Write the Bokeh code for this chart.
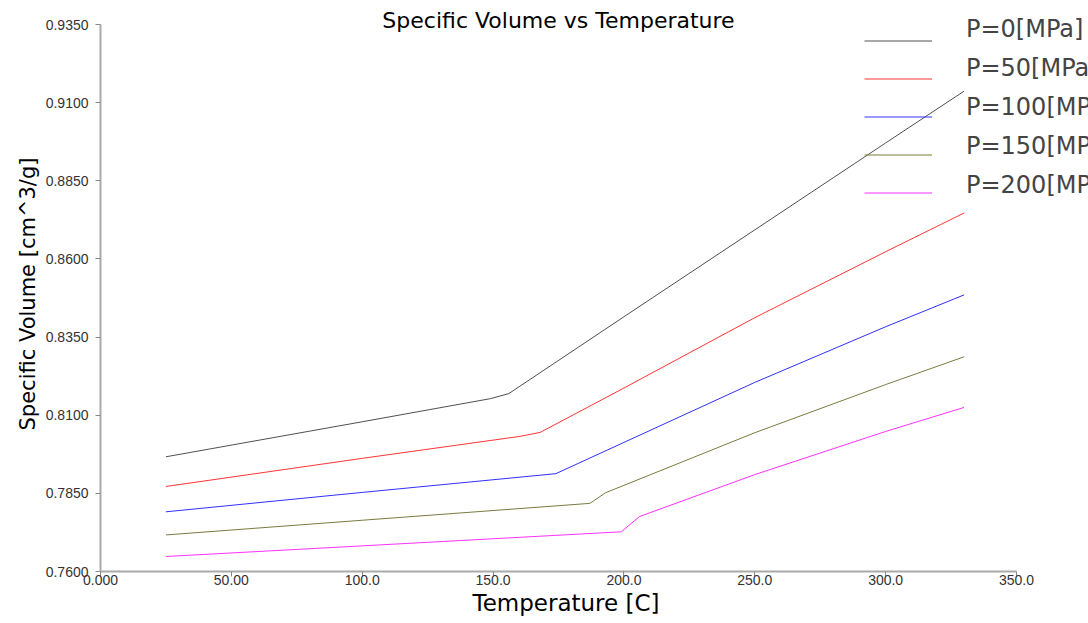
from bokeh.plotting import figure
from bokeh.models import Legend, LegendItem, Label, FixedTicker, Title
from bokeh.embed import file_html
from bokeh.resources import INLINE

# ---- data ----
T_0 = [25, 100, 149, 156, 200, 250, 300, 330]
V_0 = [0.7967, 0.8079, 0.8153, 0.8169, 0.8415, 0.8693, 0.8971, 0.9137]
T_50 = [25, 100, 160, 168, 200, 250, 300, 330]
V_50 = [0.7872, 0.7962, 0.8032, 0.8045, 0.8187, 0.8412, 0.8623, 0.8747]
T_100 = [25, 100, 174, 200, 250, 300, 330]
V_100 = [0.7791, 0.7853, 0.7913, 0.8013, 0.8205, 0.8383, 0.8485]
T_150 = [25, 100, 187, 193, 250, 300, 330]
V_150 = [0.7717, 0.7764, 0.7818, 0.7852, 0.8044, 0.8198, 0.8287]
T_200 = [25, 100, 199, 206, 250, 300, 330]
V_200 = [0.7648, 0.7682, 0.7727, 0.7776, 0.7910, 0.8048, 0.8125]

series_names = ["P=0[MPa]", "P=50[MPa]", "P=100[MPa]", "P=150[MPa]", "P=200[MPa]"]
series_T = [T_0, T_50, T_100, T_150, T_200]
series_V = [V_0, V_50, V_100, V_150, V_200]
colors = ["#505050", "#ff3535", "#3030ff", "#7a7a40", "#ff30ff"]

x_ticks = [0, 50, 100, 150, 200, 250, 300, 350]
x_tick_labels = ["0.000", "50.00", "100.0", "150.0", "200.0", "250.0", "300.0", "350.0"]
y_ticks = [0.76, 0.785, 0.81, 0.835, 0.86, 0.885, 0.91, 0.935]
y_tick_labels = ["0.7600", "0.7850", "0.8100", "0.8350", "0.8600", "0.8850", "0.9100", "0.9350"]

TICK_FONT = "Liberation Sans"
BIG_FONT = "DejaVu Sans"

# Axes span 0..350 over 916 px and 0.76..0.935 over 547 px; the frame is
# extended to the canvas edges so the legend/title are not clipped early.
X_MIN, X_MAX = 0, 350
Y_MIN, Y_MAX = 0.76, 0.935
FW, FH = 988, 571
x_end = X_MIN + (X_MAX - X_MIN) * FW / 916
y_end = Y_MIN + (Y_MAX - Y_MIN) * FH / 547

p = figure(
    frame_width=FW, frame_height=FH,
    x_range=(X_MIN, x_end), y_range=(Y_MIN, y_end),
    output_backend="svg", toolbar_location=None,
    min_border_left=100, min_border_right=0, min_border_top=0, min_border_bottom=52,
)
p.outline_line_color = None
p.grid.visible = False
p.background_fill_color = "white"
p.border_fill_color = "white"

for ax in (p.xaxis[0], p.yaxis[0]):
    ax.axis_line_color = "#aaaaaa"
    ax.axis_line_width = 2
    ax.major_tick_line_color = "#888888"
    ax.major_tick_out = 5
    ax.major_tick_in = 0
    ax.minor_tick_line_color = None
    ax.major_label_text_font = TICK_FONT
    ax.major_label_text_font_size = "14px"
    ax.major_label_text_color = "#333333"

p.xaxis.bounds = (X_MIN, X_MAX)
p.yaxis.bounds = (Y_MIN, Y_MAX)
p.xaxis.ticker = FixedTicker(ticks=x_ticks)
p.xaxis.major_label_overrides = dict(zip(x_ticks, x_tick_labels))
p.yaxis.ticker = FixedTicker(ticks=y_ticks)
p.yaxis.major_label_overrides = dict(zip(y_ticks, y_tick_labels))
p.xaxis.major_label_standoff = -2
p.yaxis.major_label_standoff = 7

# axis titles as side-panel titles, placed along the visible axis extent
x_title = Title(text="Temperature [C]", align="left", offset=372,
                text_font=BIG_FONT, text_font_size="23px", text_font_style="normal",
                text_color="black", standoff=0)
y_title = Title(text="Specific Volume [cm^3/g]", align="left", offset=141,
                text_font=BIG_FONT, text_font_size="21px", text_font_style="normal",
                text_color="black", standoff=5)
p.add_layout(x_title, "below")
p.add_layout(y_title, "left")

glyph_items = []
text_items = []
for name, T, V, c in zip(series_names, series_T, series_V, colors):
    r = p.line(T, V, line_color=c, line_width=1)
    glyph_items.append(LegendItem(label=" ", renderers=[r]))
    ghost = p.line(T, V, line_color=c, line_alpha=0, line_width=1)
    text_items.append(LegendItem(label=name, renderers=[ghost]))

common = dict(
    orientation="vertical", background_fill_alpha=0, border_line_color=None,
    label_text_font=BIG_FONT, label_text_font_size="24px",
    glyph_width=68, glyph_height=27, label_standoff=34,
    label_height=27, spacing=11, padding=0, margin=0,
)
legend_lines = Legend(items=glyph_items, location=(764, 365), **common)
legend_text = Legend(items=text_items, location=(764, 372), **common)
p.add_layout(legend_lines, "center")
p.add_layout(legend_text, "center")

title = Label(x=(X_MIN + X_MAX) / 2, y=Y_MAX, text="Specific Volume vs Temperature",
              text_font=BIG_FONT, text_font_size="22px", text_align="center",
              text_baseline="middle", y_offset=4, text_color="black")
p.add_layout(title)

open("out.html", "w").write(file_html(p, INLINE))
